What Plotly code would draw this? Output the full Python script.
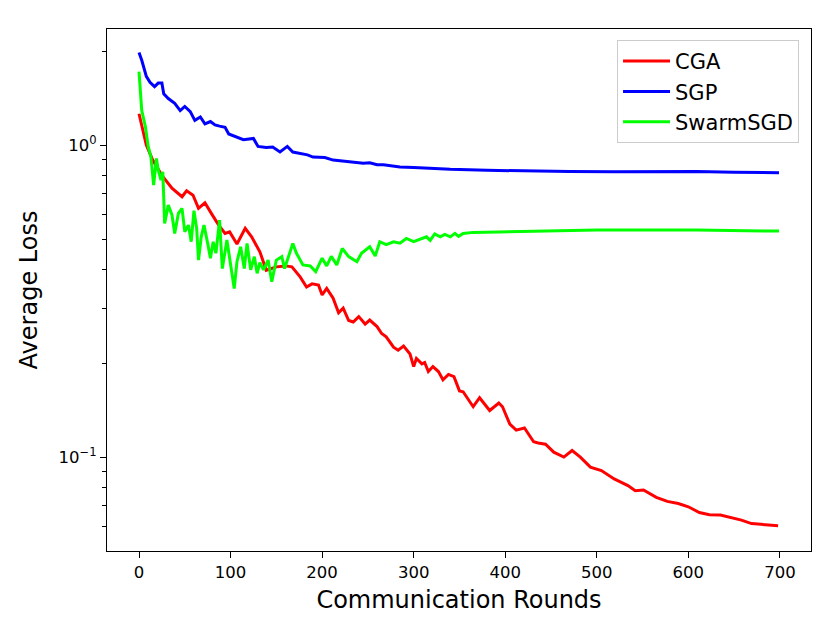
import plotly.graph_objects as go

# rounds / average loss
cga_rounds = [0, 3, 8, 15, 25, 36, 47, 52, 59, 65,
              72, 79, 87, 94, 99, 107, 116, 123, 132, 139,
              150, 160, 167, 176, 183, 189, 196, 200, 205, 212,
              218, 223, 229, 234, 240, 247, 252, 260, 265, 270,
              278, 283, 289, 296, 300, 303, 309, 312, 316, 321,
              327, 332, 338, 344, 350, 354, 365, 372, 383, 393,
              397, 405, 412, 421, 431, 436, 444, 453, 464, 473,
              482, 493, 505, 519, 534, 542, 551, 565, 577, 589,
              600, 612, 623, 635, 646, 658, 669, 681, 698]
cga_loss = [1.26, 1.145, 1.0, 0.895, 0.80, 0.727, 0.683, 0.714, 0.691, 0.627,
            0.653, 0.604, 0.554, 0.521, 0.527, 0.482, 0.541, 0.508, 0.455, 0.397,
            0.407, 0.41, 0.407, 0.378, 0.351, 0.359, 0.356, 0.331, 0.347, 0.323,
            0.290, 0.300, 0.274, 0.271, 0.282, 0.267, 0.275, 0.262, 0.249, 0.243,
            0.225, 0.220, 0.227, 0.214, 0.195, 0.207, 0.199, 0.201, 0.188, 0.195,
            0.188, 0.177, 0.184, 0.181, 0.163, 0.162, 0.145, 0.155, 0.141, 0.149,
            0.145, 0.1276, 0.122, 0.124, 0.112, 0.111, 0.110, 0.1037, 0.100, 0.105,
            0.100, 0.0929, 0.0905, 0.0851, 0.081, 0.078, 0.0784, 0.0743, 0.0721, 0.071,
            0.0693, 0.0664, 0.0653, 0.0652, 0.064, 0.0628, 0.0612, 0.0607, 0.0603]

sgp_rounds = [0, 3, 8, 12, 17, 21, 25, 27, 32, 36,
              39, 45, 50, 56, 61, 67, 72, 78, 83, 88,
              94, 98, 107, 114, 125, 130, 139, 146, 154, 162,
              168, 176, 184, 190, 203, 212, 222, 233, 245, 252,
              260, 267, 285, 300, 318, 340, 380, 427, 470, 518,
              560, 609, 650, 699]
sgp_loss = [1.98, 1.87, 1.66, 1.59, 1.54, 1.58, 1.58, 1.46, 1.41, 1.38,
            1.36, 1.29, 1.33, 1.28, 1.20, 1.23, 1.17, 1.19, 1.16, 1.15,
            1.14, 1.085, 1.06, 1.04, 1.05, 0.99, 0.983, 0.985, 0.95, 0.99,
            0.95, 0.94, 0.93, 0.915, 0.912, 0.895, 0.888, 0.88, 0.875, 0.878,
            0.865, 0.865, 0.85, 0.848, 0.842, 0.836, 0.83, 0.825, 0.823, 0.822,
            0.822, 0.823, 0.818, 0.815]

swarm_rounds = [0, 3, 7, 10, 13, 16, 19, 21, 24, 26,
                28, 32, 36, 39, 43, 47, 50, 54, 57, 60,
                63, 65, 68, 71, 75, 78, 81, 84, 88, 91,
                96, 99, 104, 107, 111, 115, 118, 122, 126, 129,
                132, 136, 141, 145, 150, 156, 159, 168, 172, 179,
                187, 193, 200, 205, 210, 216, 222, 229, 238, 243,
                252, 258, 263, 270, 278, 285, 292, 300, 314, 318,
                323, 329, 334, 340, 345, 349, 354, 365, 391, 427,
                500, 609, 699]
swarm_loss = [1.72, 1.29, 1.145, 0.99, 0.917, 0.744, 0.906, 0.832, 0.772, 0.821,
              0.561, 0.642, 0.597, 0.521, 0.604, 0.627, 0.527, 0.554, 0.49, 0.616,
              0.541, 0.428, 0.508, 0.554, 0.484, 0.434, 0.49, 0.45, 0.575, 0.402,
              0.496, 0.439, 0.347, 0.423, 0.472, 0.402, 0.484, 0.398, 0.439, 0.388,
              0.42, 0.398, 0.428, 0.365, 0.428, 0.439, 0.402, 0.484, 0.45, 0.413,
              0.41, 0.393, 0.434, 0.41, 0.44, 0.413, 0.466, 0.439, 0.423, 0.45,
              0.472, 0.441, 0.49, 0.48, 0.49, 0.485, 0.502, 0.49, 0.508, 0.495,
              0.519, 0.508, 0.517, 0.508, 0.521, 0.51, 0.521, 0.525, 0.527, 0.531,
              0.534, 0.534, 0.530]

x_ticks = [0, 100, 200, 300, 400, 500, 600, 700]
y_ticks = [0.1, 1]
y_ticktext = ["10<sup>\u22121</sup>", "10<sup>0</sup>"]
y_minor = [0.06, 0.07, 0.08, 0.09, 0.2, 0.3, 0.4, 0.5, 0.6, 0.7, 0.8, 0.9, 2]

font = "DejaVu Sans"

fig = go.Figure()
fig.add_trace(go.Scatter(x=cga_rounds, y=cga_loss, mode="lines", name="CGA",
                         line=dict(color="#ff0000", width=3)))
fig.add_trace(go.Scatter(x=sgp_rounds, y=sgp_loss, mode="lines", name="SGP",
                         line=dict(color="#0000ff", width=3)))
fig.add_trace(go.Scatter(x=swarm_rounds, y=swarm_loss, mode="lines", name="SwarmSGD",
                         line=dict(color="#00ff00", width=3)))

# the page body has an 8px margin, so the figure is made 8px smaller
fig.update_layout(
    width=822, height=634,
    margin=dict(l=99, r=19, t=21, b=91),
    paper_bgcolor="white", plot_bgcolor="white",
    font=dict(family=font, color="black", size=16),
    legend=dict(x=0.983, y=0.979, xanchor="right", yanchor="top",
                bgcolor="white", bordercolor="#cccccc", borderwidth=1,
                font=dict(size=21, family=font), itemwidth=47),
)
fig.update_xaxes(
    range=[-34.95, 733.95], tickvals=x_ticks, ticks="outside", ticklen=6,
    tickwidth=1.2, tickcolor="black", showgrid=False, zeroline=False,
    showline=True, linecolor="black", linewidth=1.3, mirror=True,
    tickfont=dict(size=16.5),
    title=dict(text="Communication Rounds", font=dict(size=24), standoff=10),
)
fig.update_yaxes(
    type="log", range=[-1.301, 0.372], tickvals=y_ticks, ticktext=y_ticktext,
    ticks="outside", ticklen=6, tickwidth=1.2, tickcolor="black",
    minor=dict(tickvals=y_minor, ticks="outside", ticklen=3.5,
               tickcolor="black", tickwidth=1, showgrid=False),
    showgrid=False, zeroline=False,
    showline=True, linecolor="black", linewidth=1.3, mirror=True,
    tickfont=dict(size=16.5),
    title=dict(text="Average Loss", font=dict(size=24), standoff=14),
)

fig.write_html("out.html")
